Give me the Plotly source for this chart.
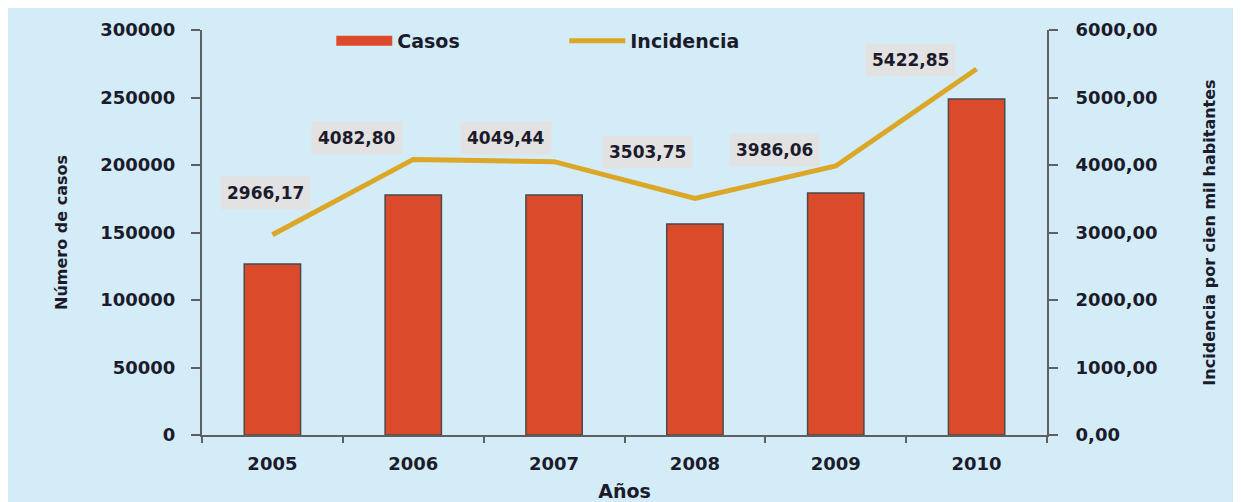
import plotly.graph_objects as go

years = ["2005", "2006", "2007", "2008", "2009", "2010"]
casos = [126700, 177800, 177800, 156300, 179300, 248900]
incidencia = [2966.17, 4082.80, 4049.44, 3503.75, 3986.06, 5422.85]

# label offsets in px (label centre relative to the line point)
label_shift = [(-7, 42), (-56, 21), (-48, 24), (-47, 47), (-61, 16), (-66, 9)]

_FONT = "DejaVu Sans"
_TXT = "#1b1b2b"
_AXIS = "#5f5f5f"
_RED = "#DB4B2B"

fig = go.Figure()
fig.add_bar(
    x=years,
    y=casos,
    name="Casos",
    showlegend=False,
    marker=dict(color=_RED, line=dict(color="#4a4a4a", width=1.5)),
)
# wide swatch for the bar legend entry
fig.add_scatter(
    x=[None], y=[None], name="Casos", mode="lines",
    line=dict(color=_RED, width=11),
)
fig.add_scatter(
    x=years,
    y=incidencia,
    name="Incidencia",
    yaxis="y2",
    mode="lines",
    line=dict(color="#DCA626", width=5),
)

# category axis: annotations are placed by category index
for i, (v, (dx, dy)) in enumerate(zip(incidencia, label_shift)):
    fig.add_annotation(
        x=i, y=v, xref="x", yref="y2",
        text=f"{v:.2f}".replace(".", ","),
        showarrow=False, xshift=dx, yshift=dy,
        bgcolor="#E2E2E2", borderpad=6,
        font=dict(family=_FONT, size=17, color=_TXT, weight="bold"),
    )

axis_font = dict(family=_FONT, size=18, color=_TXT, weight="bold")
title_font = dict(family=_FONT, size=16, color=_TXT, weight="bold")
fig.update_layout(
    width=1233,
    height=494,
    paper_bgcolor="#D3ECF8",
    plot_bgcolor="rgba(0,0,0,0)",
    separators=",.",
    margin=dict(l=194, r=194, t=22, b=67, autoexpand=False),
    bargap=0.6,
    font=dict(family=_FONT, color=_TXT),
    showlegend=True,
    legend=dict(
        orientation="h", x=0.153, y=0.973, xanchor="left", yanchor="middle",
        bgcolor="rgba(0,0,0,0)", font=dict(family=_FONT, size=19, color=_TXT, weight="bold"),
        itemwidth=56, entrywidth=162, traceorder="normal",
    ),
    xaxis=dict(
        type="category", automargin=False, range=[-0.5, len(years) - 0.5],
        showline=True, linecolor=_AXIS, linewidth=2,
        ticks="outside", ticklen=6, tickcolor=_AXIS, tickwidth=2,
        tickson="boundaries", tickfont=axis_font, tickangle=0, ticklabelstandoff=11,
        title=dict(text="Años", font=dict(family=_FONT, size=19, color=_TXT, weight="bold"), standoff=12),
        showgrid=False,
    ),
    yaxis=dict(
        range=[0, 300000], dtick=50000, tickformat="d", automargin=False,
        showline=True, linecolor=_AXIS, linewidth=2,
        ticks="outside", ticklen=9, tickcolor=_AXIS, tickwidth=2, ticklabelstandoff=12,
        tickfont=axis_font, showgrid=False, zeroline=False,
        title=dict(text="Número de casos", font=title_font, standoff=29),
    ),
    yaxis2=dict(
        range=[0, 6000], dtick=1000, tickformat=".2f", automargin=False,
        overlaying="y", side="right",
        showline=True, linecolor=_AXIS, linewidth=2,
        ticks="outside", ticklen=9, tickcolor=_AXIS, tickwidth=2, ticklabelstandoff=14,
        tickfont=axis_font, showgrid=False, zeroline=False,
        title=dict(text="Incidencia por cien mil habitantes", font=title_font, standoff=47),
    ),
)

fig.write_html("out.html")
